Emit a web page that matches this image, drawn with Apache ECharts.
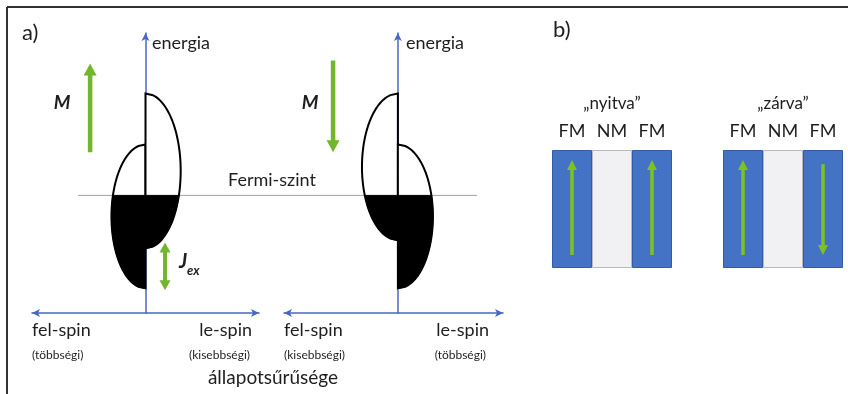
<!DOCTYPE html>
<html><head><meta charset="utf-8">
<script src="https://cdn.jsdelivr.net/npm/echarts@6/dist/echarts.min.js"></script>
<style>html,body{margin:0;padding:0;background:#fff}#c{width:848px;height:394px}</style>
</head><body><div id="c"></div><script>
// ---------------- data ----------------
const energyRange = [-4.2, 5.8];          // energy axis, Fermi level = 0
const dosRangeLeft = [-5, 5];             // density of states (fel-spin < 0 < le-spin)
const dosRangeRight = [-5.2, 4.8];
const fermiLevel = 0;
// bands: [side (-1 fel-spin, +1 le-spin), band bottom energy, band top energy, peak DOS]
const bandsUp = [[-1, -3.32, 1.82, 1.5], [1, -1.89, 3.64, 1.55]];
const bandsDown = [[-1, -1.6, 3.64, 1.64], [1, -3.32, 1.82, 1.6]];
// magnetization arrows: [DOS position, tail energy, head energy]
const magnetUp = [[-2.44, 1.54, 4.71]];
const magnetDown = [[-2.96, 4.82, 1.54]];
// exchange splitting arrow: [DOS position, lower energy, upper energy]
const jexArrow = [[0.86, -3.39, -1.68]];
// spin-valve layers
const layers = ['FM', 'NM', 'FM'];
const openMag = [1, 0, 1];      // "nyitva" (parallel)
const closedMag = [1, 0, -1];   // "zárva" (antiparallel)
const layerThickness = [1, 1, 1];

// ---------------- styles ----------------
const FONT = 'Lato, "Open Sans", sans-serif';
const BLUE = '#4668c5';
const GREEN = '#74b52e';
const TXT = '#1e1e1e';
const LAYER_BLUE = '#4472c4';

function arrowPts(p0, p1, w, hw, hl, dbl) {
  const dx = p1[0] - p0[0], dy = p1[1] - p0[1], L = Math.hypot(dx, dy);
  const ux = dx / L, uy = dy / L, nx = -uy, ny = ux;
  const P = (a, b) => [p0[0] + ux * a + nx * b, p0[1] + uy * a + ny * b];
  const s1 = L - hl, pts = [];
  if (dbl) pts.push(P(0, 0), P(hl, hw / 2), P(hl, w / 2)); else pts.push(P(0, w / 2));
  pts.push(P(s1, w / 2), P(s1, hw / 2), P(L, 0), P(s1, -hw / 2), P(s1, -w / 2));
  if (dbl) pts.push(P(hl, -w / 2), P(hl, -hw / 2)); else pts.push(P(0, -w / 2));
  return pts;
}

function renderBand(params, api) {
  const side = api.value(0), eb = api.value(1), et = api.value(2), pk = api.value(3);
  const c = (eb + et) / 2, h = (et - eb) / 2, N = 90;
  const f = e => side * pk * Math.sqrt(Math.max(0, 1 - ((e - c) / h) ** 2));
  const outline = [];
  for (let i = 0; i <= N; i++) { const e = et - (et - eb) * i / N; outline.push(api.coord([f(e), e])); }
  const top = Math.min(fermiLevel, et);
  const filled = [api.coord([0, top])];
  for (let i = 0; i <= N; i++) { const e = top - (top - eb) * i / N; filled.push(api.coord([f(e), e])); }
  return { type: 'group', children: [
    { type: 'polygon', shape: { points: outline }, style: { fill: '#fff', stroke: '#000', lineWidth: 2 } },
    { type: 'polygon', shape: { points: filled }, style: { fill: '#000', stroke: '#000', lineWidth: 1 } }
  ]};
}

function renderMagnet(w, hw, hl, dbl) {
  return function (params, api) {
    const x = api.value(0);
    const p0 = api.coord([x, api.value(1)]), p1 = api.coord([x, api.value(2)]);
    return { type: 'polygon', shape: { points: arrowPts(p0, p1, w, hw, hl, dbl) }, style: { fill: GREEN } };
  };
}

function renderFermi(params, api) {
  const e = api.value(0);
  const a = api.coord([-2.97, e]), b = api.coord([14.6, e]);
  return { type: 'line', shape: { x1: a[0], y1: a[1], x2: b[0], y2: b[1] }, style: { stroke: '#93a0cc', lineWidth: 1 } };
}

function renderLayerArrow(params, api) {
  const dir = api.value(1);
  if (!dir) return null;
  const lo = api.coord([api.value(0), 0.11]), hi = api.coord([api.value(0), 0.915]);
  const p0 = dir > 0 ? lo : [hi[0], api.coord([0, 0.88])[1]];
  const p1 = dir > 0 ? hi : [lo[0], api.coord([0, 0.11])[1]];
  return { type: 'polygon', shape: { points: arrowPts(p0, p1, 3.5, 10, 10, false) }, style: { fill: '#7cc221' } };
}

function dosAxes(range, gridIndex) {
  return {
    x: { type: 'value', gridIndex, min: range[0], max: range[1], position: 'bottom',
      axisLine: { onZero: false, lineStyle: { color: BLUE, width: 1.5 }, symbol: ['arrow', 'arrow'], symbolSize: [6, 8] },
      axisTick: { show: false }, axisLabel: { show: false }, splitLine: { show: false } },
    y: { type: 'value', gridIndex, min: energyRange[0], max: energyRange[1],
      axisLine: { onZero: true, lineStyle: { color: BLUE, width: 1.5 }, symbol: ['none', 'arrow'], symbolSize: [6, 8] },
      axisTick: { show: false }, axisLabel: { show: false }, splitLine: { show: false } }
  };
}
const A0 = dosAxes(dosRangeLeft, 0), A1 = dosAxes(dosRangeRight, 1);

function layerAxes(gridIndex, title) {
  return {
    x: { type: 'category', gridIndex, data: layers, position: 'top',
      axisLine: { show: false }, axisTick: { show: false },
      axisLabel: { color: TXT, fontSize: 18, fontFamily: FONT, margin: 10 },
      name: title, nameLocation: 'middle', nameGap: 38,
      nameTextStyle: { color: TXT, fontSize: 17, fontFamily: FONT } },
    y: { type: 'value', gridIndex, min: 0, max: 1, show: false }
  };
}
const B0 = layerAxes(2, '„nyitva”'), B1 = layerAxes(3, '„zárva”');

function layerBars(x) {
  return {
    type: 'bar', xAxisIndex: x, yAxisIndex: x, barCategoryGap: '0%', silent: true,
    data: layerThickness.map((v, i) => ({ value: v, itemStyle: layers[i] === 'FM'
      ? { color: LAYER_BLUE, borderColor: '#3459a6', borderWidth: 1 }
      : { color: '#f1f1f4', borderColor: '#b8b8c0', borderWidth: 1 } }))
  };
}

function txt(text, x, y, size, align, extra) {
  return Object.assign({ type: 'text', x, y, z: 100, style: {
    text, fill: TXT, font: (extra || '') + ' ' + size + 'px ' + FONT,
    align: align, textAlign: align, verticalAlign: 'middle', textVerticalAlign: 'middle' } });
}

const chart = echarts.init(document.getElementById('c'), null, { renderer: 'canvas' });
chart.setOption({
  animation: false,
  backgroundColor: '#fff',
  grid: [
    { left: 32, top: 33, width: 227, height: 280 },
    { left: 284, top: 33, width: 219, height: 280 },
    { left: 552, top: 150, width: 120, height: 118 },
    { left: 723, top: 150, width: 120, height: 118 }
  ],
  xAxis: [A0.x, A1.x, B0.x, B1.x],
  yAxis: [A0.y, A1.y, B0.y, B1.y],
  series: [
    { type: 'custom', xAxisIndex: 0, yAxisIndex: 0, clip: false, z: 1, data: [[fermiLevel]], renderItem: renderFermi },
    { type: 'custom', xAxisIndex: 0, yAxisIndex: 0, clip: false, z: 3, data: bandsUp, renderItem: renderBand },
    { type: 'custom', xAxisIndex: 1, yAxisIndex: 1, clip: false, z: 3, data: bandsDown, renderItem: renderBand },
    { type: 'custom', xAxisIndex: 0, yAxisIndex: 0, clip: false, z: 4, data: magnetUp, renderItem: renderMagnet(4.5, 13, 12, false) },
    { type: 'custom', xAxisIndex: 1, yAxisIndex: 1, clip: false, z: 4, data: magnetDown, renderItem: renderMagnet(4.5, 13, 12, false) },
    { type: 'custom', xAxisIndex: 0, yAxisIndex: 0, clip: false, z: 4, data: jexArrow, renderItem: renderMagnet(4, 11, 10, true) },
    layerBars(2), layerBars(3),
    { type: 'custom', xAxisIndex: 2, yAxisIndex: 2, z: 5, data: openMag.map((m, i) => [i, m]), renderItem: renderLayerArrow },
    { type: 'custom', xAxisIndex: 3, yAxisIndex: 3, z: 5, data: closedMag.map((m, i) => [i, m]), renderItem: renderLayerArrow }
  ],
  graphic: [
    { type: 'line', shape: { x1: 7, y1: 7, x2: 848, y2: 7 }, style: { stroke: '#333', lineWidth: 2 } },
    { type: 'line', shape: { x1: 7, y1: 7, x2: 7, y2: 394 }, style: { stroke: '#333', lineWidth: 2 } },
    txt('a)', 22, 33, 22, 'left'),
    txt('b)', 553, 30, 22, 'left'),
    txt('energia', 152, 43, 18, 'left'),
    txt('energia', 406, 43, 18, 'left'),
    txt('M', 62, 103, 19, 'center', 'italic bold'),
    txt('M', 310, 103, 19, 'center', 'italic bold'),
    txt('Fermi-szint', 228, 180, 18, 'left'),
    txt('J', 183, 262, 20, 'center', 'italic bold'),
    txt('ex', 187, 271, 13, 'left', 'italic bold'),
    txt('fel-spin', 32, 330, 18, 'left'),
    txt('le-spin', 252, 330, 18, 'right'),
    txt('(többségi)', 32, 355, 12, 'left'),
    txt('(kisebbségi)', 250, 355, 12, 'right'),
    txt('fel-spin', 284, 330, 18, 'left'),
    txt('le-spin', 489, 330, 18, 'right'),
    txt('(kisebbségi)', 284, 355, 12, 'left'),
    txt('(többségi)', 486, 355, 12, 'right'),
    txt('állapotsűrűsége', 273, 378, 19, 'center')
  ]
});
</script></body></html>
